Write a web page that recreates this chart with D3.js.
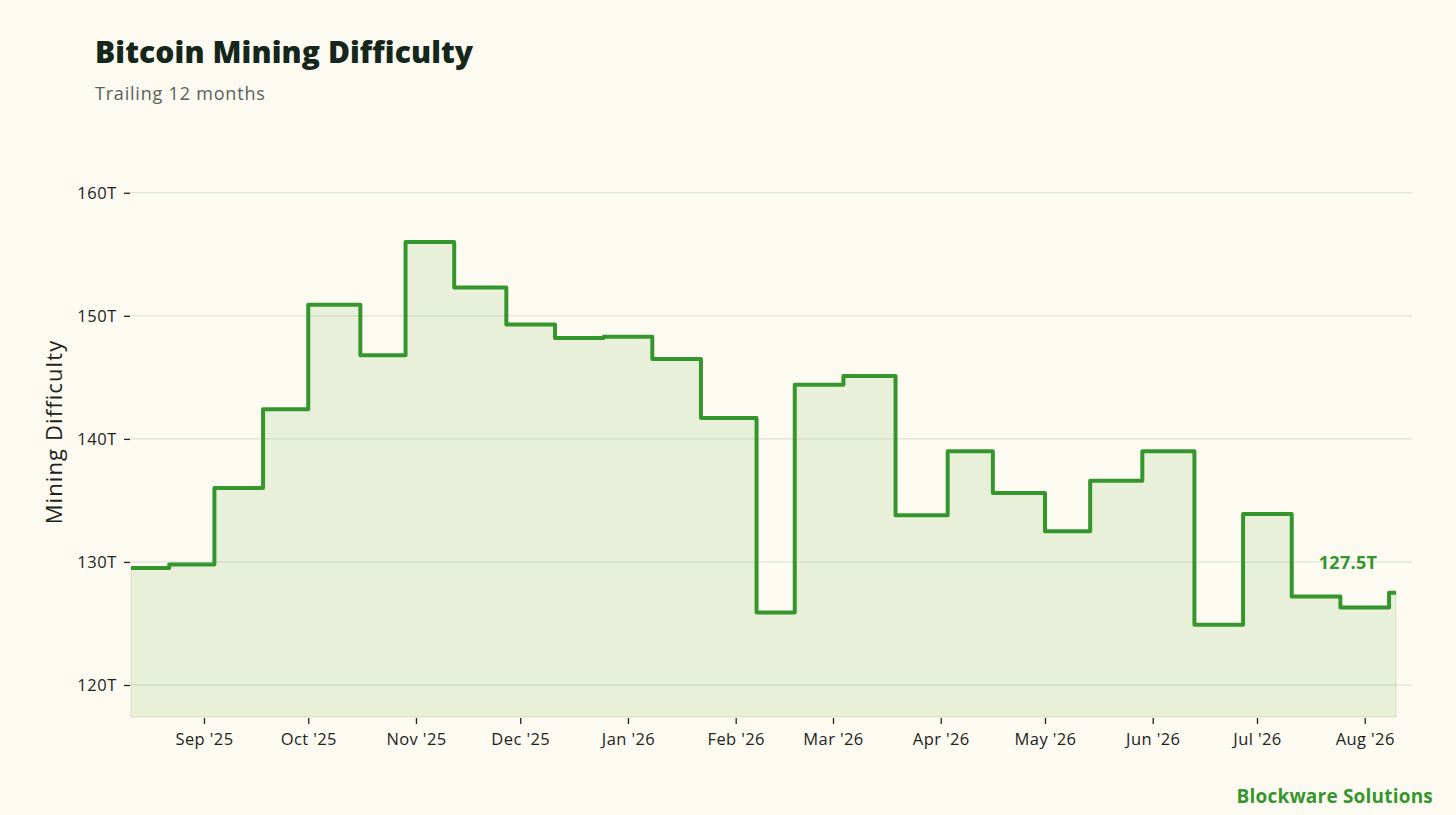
<!DOCTYPE html>
<html>
<head>
<meta charset="utf-8">
<script src="https://cdn.jsdelivr.net/npm/d3@7"></script>
<style>
  body { margin: 0; background: #fcfaf1; }
  svg { display: block; font-family: "Open Sans", sans-serif; }
</style>
</head>
<body>
<div id="chart"></div>
<script>
// difficulty adjustments (date of change, difficulty in T)
const adjustDates = [
  "2025-08-11", "2025-08-22", "2025-09-04", "2025-09-18", "2025-10-01",
  "2025-10-16", "2025-10-29", "2025-11-12", "2025-11-27", "2025-12-11",
  "2025-12-25", "2026-01-08", "2026-01-22", "2026-02-07", "2026-02-18",
  "2026-03-04", "2026-03-19", "2026-04-03", "2026-04-16", "2026-05-01",
  "2026-05-14", "2026-05-29", "2026-06-13", "2026-06-27", "2026-07-11",
  "2026-07-25", "2026-08-08", "2026-08-10"
];
const difficultyT = [
  129.5, 129.8, 136.0, 142.4, 150.9,
  146.8, 156.0, 152.3, 149.3, 148.2,
  148.3, 146.5, 141.7, 125.9, 144.4,
  145.1, 133.8, 139.0, 135.6, 132.5,
  136.6, 139.0, 124.9, 133.9, 127.2,
  126.3, 127.5, 127.5
];
const yTicks = [120, 130, 140, 150, 160];
const monthTicks = ["2025-09-01", "2025-10-01", "2025-11-01", "2025-12-01",
  "2026-01-01", "2026-02-01", "2026-03-01", "2026-04-01", "2026-05-01",
  "2026-06-01", "2026-07-01", "2026-08-01"];

const width = 1456;
const height = 815;
const margin = { top: 130, right: 60, bottom: 98, left: 131 };
const parse = d3.utcParse("%Y-%m-%d");

const data = adjustDates.map((d, i) => ({ date: parse(d), value: difficultyT[i] }));

const svg = d3.select("#chart")
  .append("svg")
  .attr("width", width)
  .attr("height", height);

svg.append("rect")
  .attr("width", width)
  .attr("height", height)
  .attr("fill", "#fcfaf1");

const xScale = d3.scaleUtc()
  .domain(d3.extent(data, d => d.date))
  .range([margin.left, width - margin.right]);

const yScale = d3.scaleLinear()
  .domain([117.4, 165.1])
  .range([height - margin.bottom, margin.top]);

// grid
svg.append("g")
  .selectAll("line")
  .data(yTicks)
  .enter()
  .append("line")
  .attr("x1", margin.left - 1)
  .attr("x2", 1412)
  .attr("y1", d => yScale(d))
  .attr("y2", d => yScale(d))
  .attr("stroke", "#d3ddd2")
  .attr("stroke-width", 1);

const area = d3.area()
  .curve(d3.curveStepAfter)
  .x(d => xScale(d.date))
  .y0(yScale(117.4))
  .y1(d => yScale(d.value));

svg.append("path")
  .datum(data)
  .attr("d", area)
  .attr("fill", "#8dc063")
  .attr("fill-opacity", 0.17)
  .attr("stroke", "#8dc063")
  .attr("stroke-opacity", 0.2)
  .attr("stroke-width", 1.5);

const line = d3.line()
  .curve(d3.curveStepAfter)
  .x(d => xScale(d.date))
  .y(d => yScale(d.value));

svg.append("path")
  .datum(data)
  .attr("d", line)
  .attr("fill", "none")
  .attr("stroke", "#36962e")
  .attr("stroke-width", 4)
  .attr("stroke-linejoin", "round");

// axes
const yAxis = svg.append("g")
  .attr("transform", `translate(${margin.left - 1},0)`)
  .call(d3.axisLeft(yScale).tickValues(yTicks).tickSize(6).tickPadding(7).tickFormat(d => d + "T"));
yAxis.select(".domain").remove();
yAxis.selectAll("line").attr("stroke", "#222").attr("stroke-width", 1.3);
yAxis.selectAll("text").attr("font-size", 16.5).attr("letter-spacing", 0.6).attr("fill", "#1c241c")
  .attr("font-family", "'Open Sans', sans-serif");

const xAxis = svg.append("g")
  .attr("transform", `translate(0,${height - margin.bottom + 1})`)
  .call(d3.axisBottom(xScale)
    .tickValues(monthTicks.map(parse))
    .tickSize(6).tickPadding(9)
    .tickFormat(d3.utcFormat("%b '%y")));
xAxis.select(".domain").remove();
xAxis.selectAll("line").attr("stroke", "#222").attr("stroke-width", 1.3);
xAxis.selectAll("text").attr("font-size", 16.5).attr("letter-spacing", 0.4).attr("fill", "#1c241c")
  .attr("font-family", "'Open Sans', sans-serif");

// last value label
const last = data[data.length - 1];
svg.append("text")
  .attr("x", xScale(last.date) - 48)
  .attr("y", yScale(last.value) - 24)
  .attr("text-anchor", "middle")
  .attr("font-size", 18)
  .attr("font-weight", 700)
  .attr("letter-spacing", 0.3)
  .attr("fill", "#36962e")
  .text(d3.format(".1f")(last.value) + "T");

// titles
svg.append("text")
  .attr("x", 95)
  .attr("y", 63)
  .attr("font-size", 30)
  .attr("font-weight", 800)
  .attr("letter-spacing", 0.1)
  .attr("fill", "#15261a")
  .text("Bitcoin Mining Difficulty");

svg.append("text")
  .attr("x", 95)
  .attr("y", 100)
  .attr("font-size", 18)
  .attr("letter-spacing", 0.8)
  .attr("fill", "#5a615a")
  .text("Trailing 12 months");

svg.append("text")
  .attr("transform", "rotate(-90)")
  .attr("x", -432)
  .attr("y", 62)
  .attr("text-anchor", "middle")
  .attr("font-size", 22)
  .attr("letter-spacing", 1.1)
  .attr("fill", "#1c241c")
  .text("Mining Difficulty");

svg.append("text")
  .attr("x", 1433)
  .attr("y", 803)
  .attr("text-anchor", "end")
  .attr("font-size", 19)
  .attr("font-weight", 700)
  .attr("letter-spacing", 0.2)
  .attr("fill", "#36962e")
  .text("Blockware Solutions");
</script>
</body>
</html>
